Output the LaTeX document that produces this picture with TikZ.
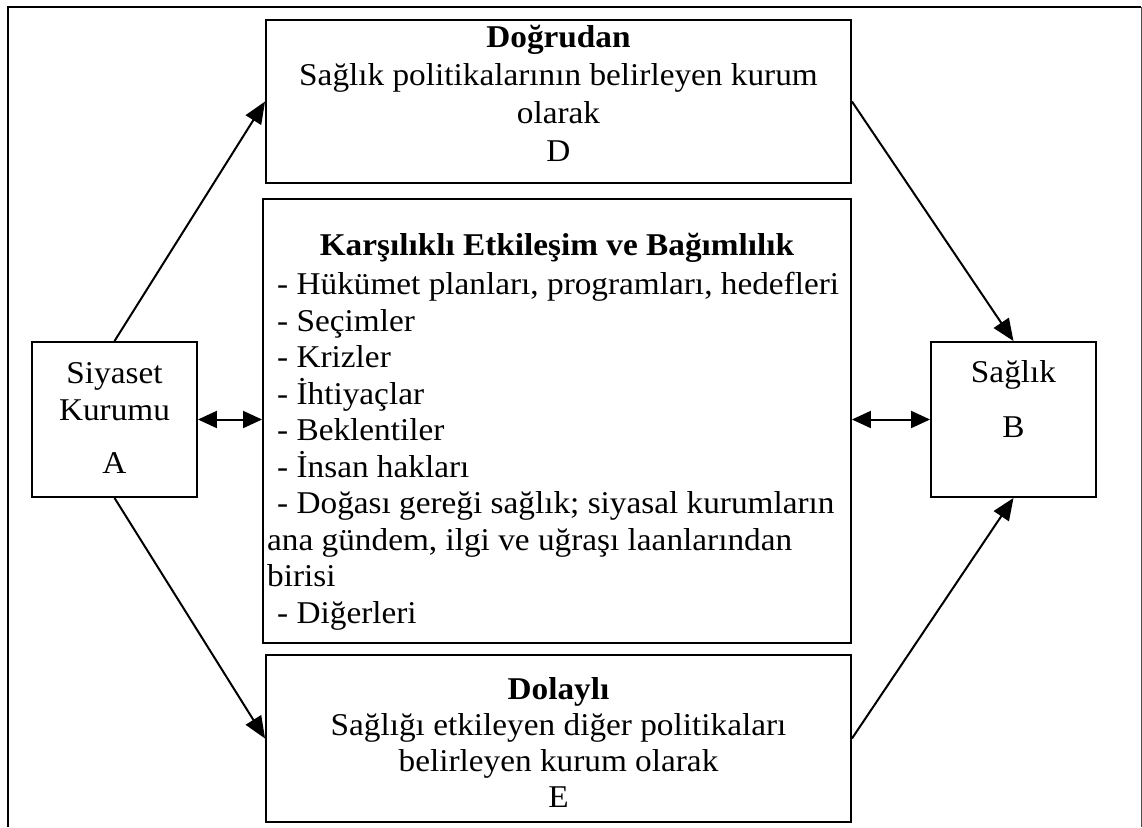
\documentclass[tikz,border=0pt]{standalone}
\usepackage{fontspec}
\setmainfont{Liberation Serif}[FakeStretch=1.05]
\usetikzlibrary{arrows.meta,fit}
\begin{document}
\begin{tikzpicture}[x=1pt,y=-1pt,
  box/.style={draw,line width=1.9pt,inner sep=0pt},
  txt/.style={inner sep=0pt,font=\fontsize{31.7}{37}\selectfont},
  arr/.style={line width=2pt,-{Triangle[length=22pt,width=18pt]}},
  biarr/.style={line width=2pt,{Triangle[length=19pt,width=17pt]}-{Triangle[length=19pt,width=17pt]}}]
\useasboundingbox (0,0) rectangle (1142,827);
% open outer frame
\draw[line width=1.9pt] (8,827) -- (8,7) -- (1141,7);
\draw[line width=0.9pt,black!70] (1141,7) -- (1141,827);

% boxes
\node[box,fit={(266,20)(851,183)}] (D) {};
\node[box,fit={(263,199)(851,643)}] (M) {};
\node[box,fit={(266,655)(851,822)}] (E) {};
\node[box,fit={(32,342)(197,497)}] (A) {};
\node[box,fit={(931,342)(1096,497)}] (B) {};

% texts
\node[txt,anchor=north,align=center] (Dt) at (558.5,21)
  {\strut\textbf{Doğrudan}\\[1pt]Sağlık politikalarının belirleyen kurum\\[1pt]olarak\\[1pt]D};
\node[txt,anchor=north,align=center] (Mt) at (557,229)
  {\strut\textbf{Karşılıklı Etkileşim ve Bağımlılık}};
\node[txt,anchor=north west,align=left,font=\fontsize{31.7}{36.5}\selectfont] (Ml) at (267,269)
  {\strut\hspace*{10pt}- Hükümet planları, programları, hedefleri\\
   \hspace*{10pt}- Seçimler\\
   \hspace*{10pt}- Krizler\\
   \hspace*{10pt}- İhtiyaçlar\\
   \hspace*{10pt}- Beklentiler\\
   \hspace*{10pt}- İnsan hakları\\
   \hspace*{10pt}- Doğası gereği sağlık; siyasal kurumların\\
   ana gündem, ilgi ve uğraşı laanlarından\\
   birisi\\
   \hspace*{10pt}- Diğerleri};
\node[txt,anchor=north,align=center,font=\fontsize{31.7}{36}\selectfont] (Et) at (558.5,674)
  {\strut\textbf{Dolaylı}\\Sağlığı etkileyen diğer politikaları\\belirleyen kurum olarak\\E};
\node[txt,anchor=north,align=center] (At) at (114.5,357)
  {\strut Siyaset\\Kurumu\\[16pt]A};
\node[txt,anchor=north,align=center] (Bt) at (1013.5,356)
  {\strut Sağlık\\[18pt]B};

% connectors
\draw[arr] (A.north) -- (D.west);
\draw[arr] (D.east) -- (B.north);
\draw[arr] (A.south) -- (E.west);
\draw[arr] (E.east) -- (B.south);
\draw[biarr] (A.east) -- (A.east -| M.west);
\draw[biarr] (B.west -| M.east) -- (B.west);
\end{tikzpicture}
\end{document}
